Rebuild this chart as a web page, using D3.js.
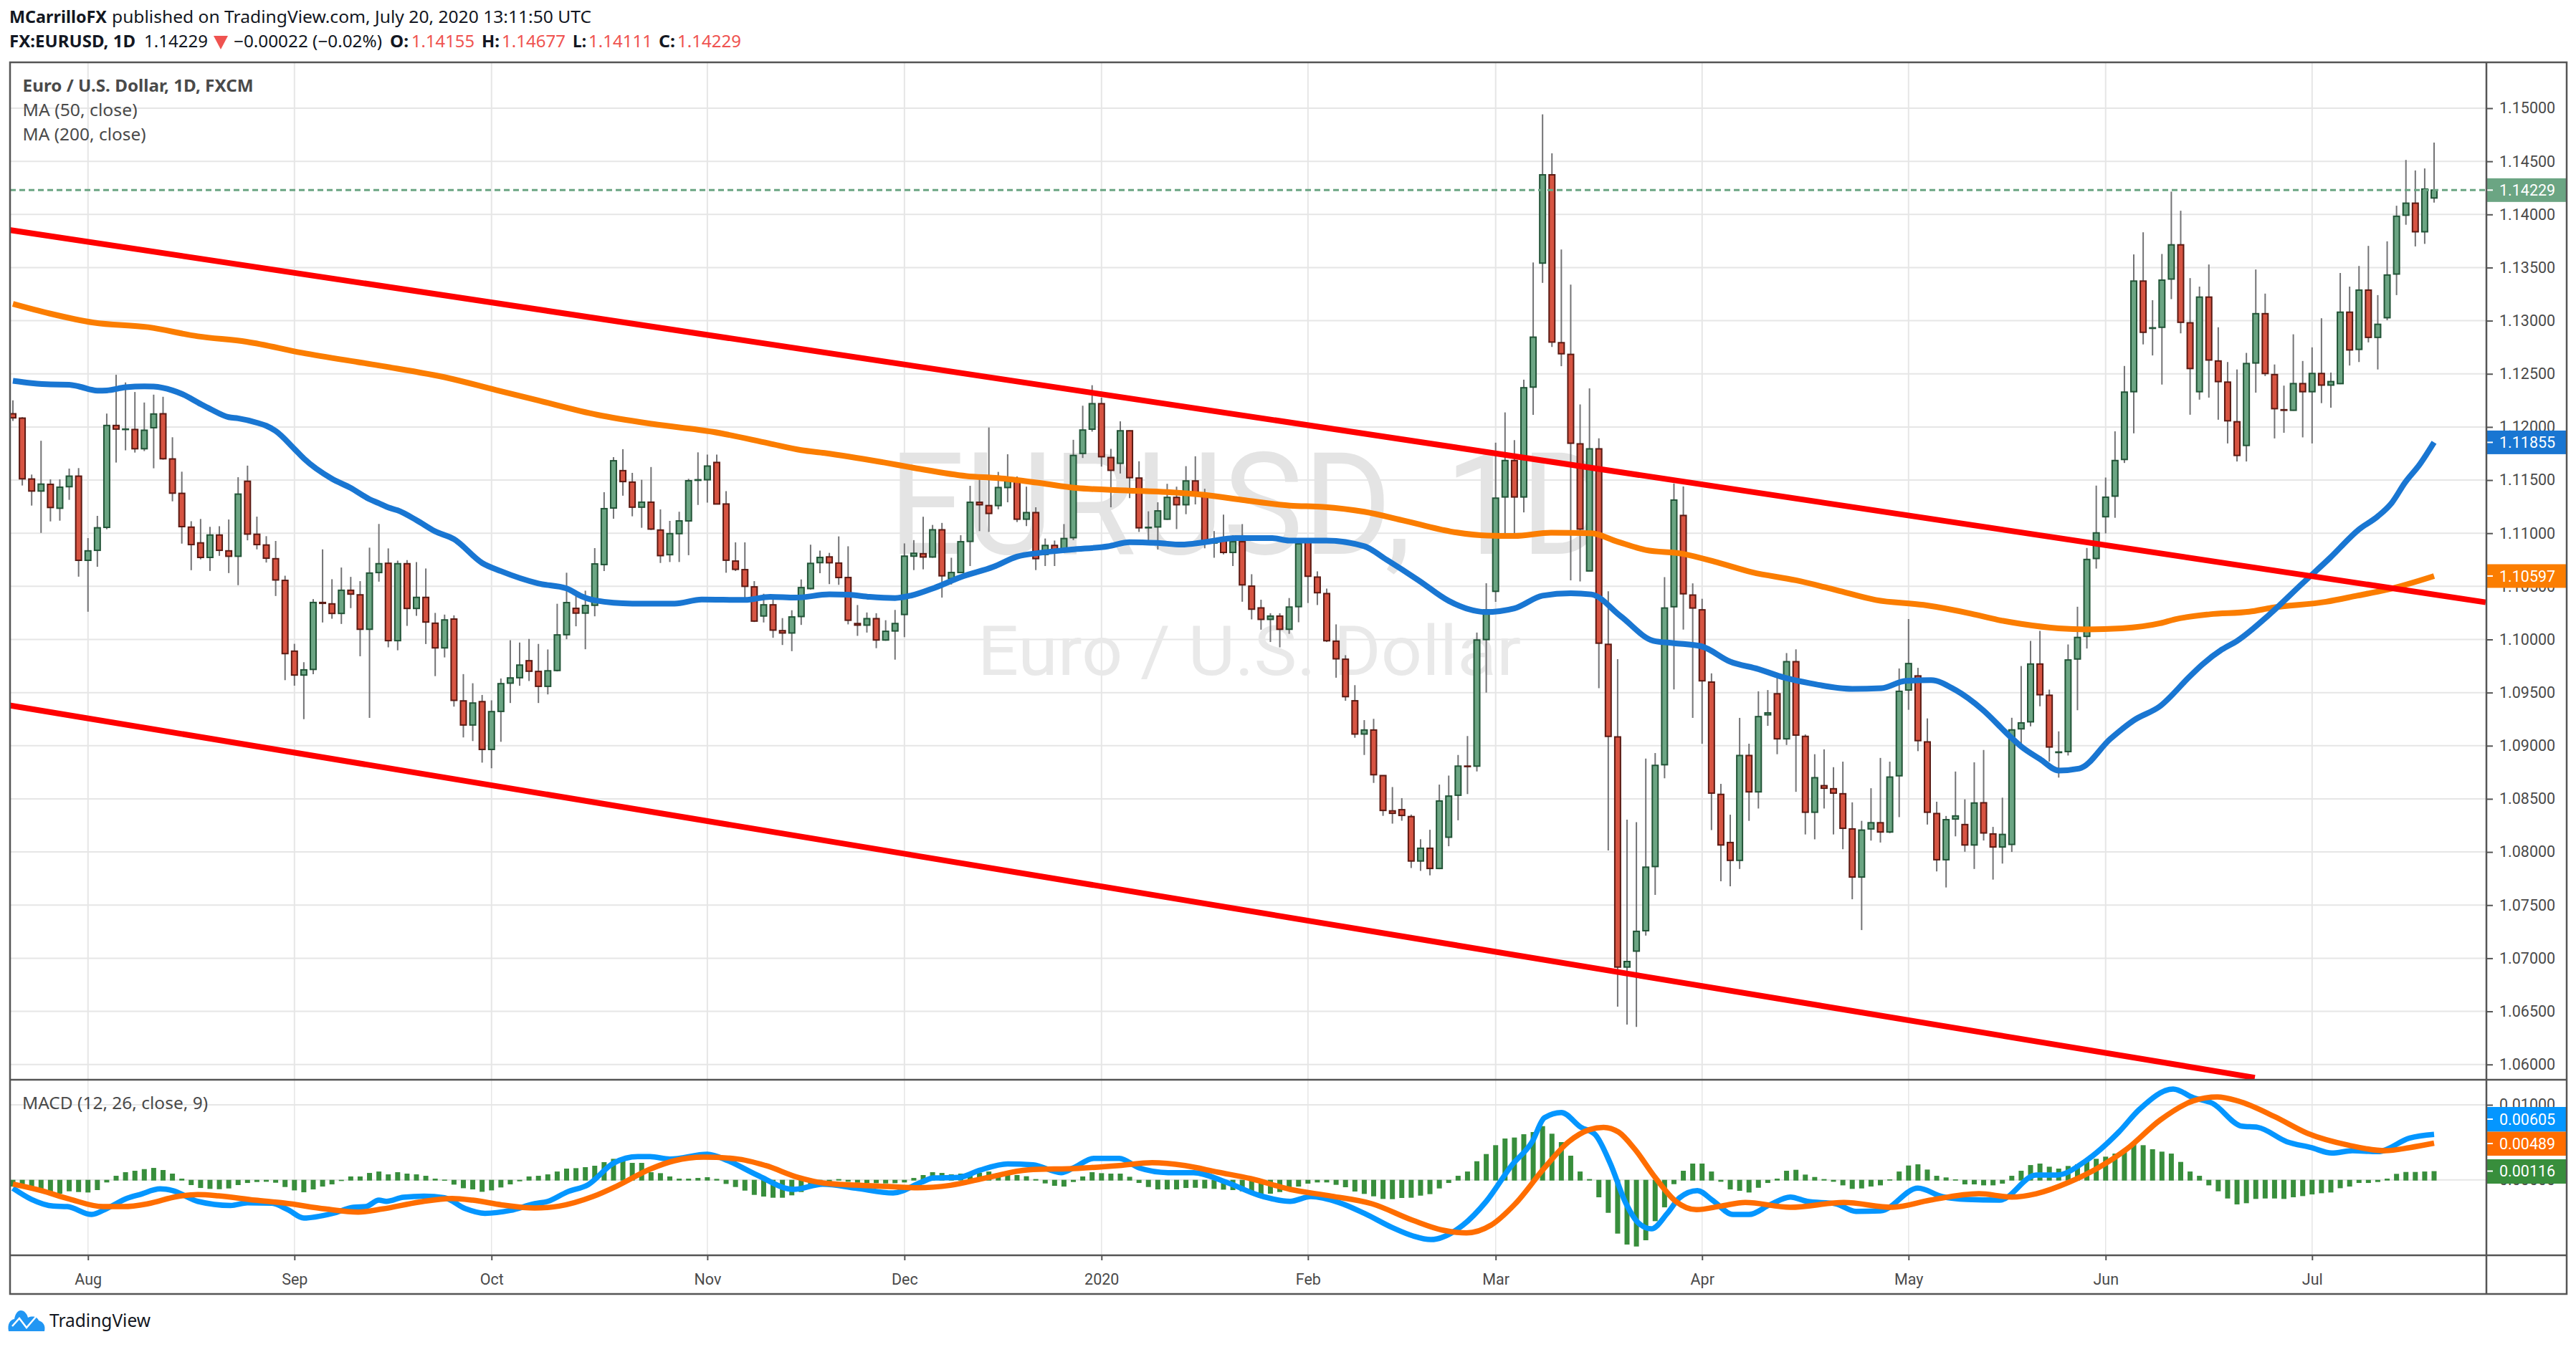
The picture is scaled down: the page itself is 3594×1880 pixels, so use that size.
<!DOCTYPE html>
<html><head><meta charset="utf-8">
<script src="https://cdn.jsdelivr.net/npm/d3@7"></script>
<style>html,body{margin:0;padding:0;background:#fff}svg{display:block}text{font-family:Roboto,sans-serif}</style>
</head><body><div id="c"></div>
<script>
const opens=[1.12124,1.12083,1.11510,1.11397,1.11460,1.11235,1.11438,1.11537,1.10745,1.10839,
1.11055,1.12014,1.11976,1.11976,1.11795,1.11993,1.12124,1.11699,1.11375,1.11057,
1.10909,1.10772,1.10983,1.10834,1.10783,1.11489,1.10990,1.10889,1.10760,1.10556,
1.09890,1.09665,1.09718,1.10348,1.10335,1.10245,1.10463,1.10420,1.10096,1.10630,
1.10717,1.09989,1.10713,1.10292,1.10396,1.10153,1.09921,1.10192,1.09422,1.09195,
1.09415,1.08965,1.09323,1.09589,1.09640,1.09800,1.09699,1.09559,1.09708,1.10045,
1.10293,1.10248,1.10322,1.10705,1.11237,1.11589,1.11481,1.11245,1.11292,1.11030,
1.10798,1.10996,1.11116,1.11498,1.11503,1.11666,1.11275,1.10738,1.10657,1.10495,
1.10221,1.10326,1.10083,1.10061,1.10216,1.10479,1.10723,1.10777,1.10719,1.10583,
1.10150,1.10135,1.10196,1.09995,1.10080,1.10235,1.10784,1.10807,1.10776,1.11032,
1.10572,1.10630,1.10923,1.11291,1.11260,1.11260,1.11430,1.11492,1.11132,1.11194,
1.10800,1.10885,1.10854,1.10958,1.11751,1.11979,1.12219,1.11712,1.11658,1.11964,
1.11519,1.11051,1.11059,1.11132,1.11337,1.11268,1.11492,1.11357,1.10908,1.10939,
1.10819,1.10920,1.10502,1.10297,1.10189,1.10220,1.10096,1.10309,1.10939,1.10587,
1.10432,1.09984,1.09814,1.09423,1.09110,1.09148,1.08719,1.08387,1.08398,1.08333,
1.07915,1.08035,1.07845,1.08139,1.08534,1.08808,1.08808,1.09999,1.10453,1.11341,
1.11684,1.11341,1.12375,1.13542,1.14373,1.12793,1.12683,1.11841,1.10645,1.11794,
1.09954,1.09083,1.06917,1.07067,1.07259,1.07863,1.08821,1.10308,1.11167,1.10418,
1.10279,1.09599,1.08542,1.08089,1.07921,1.08908,1.08566,1.09291,1.09489,1.09065,
1.09791,1.09088,1.08374,1.08624,1.08595,1.08548,1.08217,1.07764,1.08217,1.08275,
1.08188,1.08717,1.09524,1.09657,1.09036,1.08362,1.07927,1.08310,1.08258,1.08066,
1.08463,1.08170,1.08047,1.08071,1.09159,1.09225,1.09769,1.09475,1.08936,1.08945,
1.09816,1.10029,1.10762,1.11155,1.11349,1.11694,1.12332,1.13373,1.12928,1.12938,
1.13392,1.13714,1.12980,1.12332,1.13222,1.12621,1.12422,1.12049,1.11826,1.12602,
1.13066,1.12493,1.12162,1.12157,1.12408,1.12332,1.12503,1.12394,1.12408,1.13080,
1.12730,1.13288,1.12843,1.13028,1.13439,1.13993,1.14106,1.13837,1.14155];
const highs=[1.12250,1.12092,1.11552,1.11870,1.11507,1.11507,1.11608,1.11613,1.10954,1.11163,
1.12126,1.12491,1.12419,1.12329,1.12230,1.12304,1.12284,1.11903,1.11579,1.11113,
1.11134,1.11060,1.11066,1.11129,1.11527,1.11636,1.11156,1.10972,1.10927,1.10600,
1.09959,1.09786,1.10380,1.10848,1.10567,1.10677,1.10589,1.10549,1.10864,1.11087,
1.10857,1.10742,1.10747,1.10729,1.10668,1.10250,1.10234,1.10227,1.09674,1.09588,
1.09478,1.09427,1.09633,1.09993,1.09971,1.10005,1.09958,1.09906,1.10336,1.10628,
1.10426,1.10459,1.10860,1.11386,1.11716,1.11791,1.11568,1.11503,1.11623,1.11224,
1.11116,1.11202,1.11512,1.11761,1.11740,1.11740,1.11396,1.10914,1.10914,1.10549,
1.10430,1.10381,1.10201,1.10275,1.10565,1.10892,1.10836,1.10815,1.10970,1.10877,
1.10324,1.10254,1.10247,1.10181,1.10278,1.10904,1.10935,1.11155,1.11078,1.11097,
1.10769,1.10981,1.11446,1.11542,1.11995,1.11577,1.11743,1.11534,1.11438,1.11244,
1.10950,1.10931,1.11086,1.11879,1.12200,1.12393,1.12277,1.11794,1.12053,1.11968,
1.11677,1.11206,1.11291,1.11465,1.11438,1.11631,1.11724,1.11418,1.11020,1.11175,
1.10981,1.11086,1.10614,1.10374,1.10247,1.10247,1.10390,1.10923,1.10943,1.10641,
1.10479,1.10142,1.09852,1.09570,1.09241,1.09253,1.08719,1.08611,1.08507,1.08352,
1.08120,1.08209,1.08634,1.08719,1.08913,1.09091,1.10065,1.10529,1.11852,1.12137,
1.11876,1.12445,1.13548,1.14942,1.14576,1.13670,1.13339,1.12212,1.12363,1.11893,
1.10453,1.09814,1.08304,1.08281,1.08879,1.08931,1.10587,1.11469,1.11440,1.10528,
1.10383,1.09681,1.08641,1.08351,1.09262,1.09019,1.09512,1.09524,1.09675,1.09872,
1.09907,1.09106,1.08920,1.08966,1.08798,1.08850,1.08467,1.08293,1.08600,1.08885,
1.08850,1.09727,1.10192,1.09733,1.09257,1.08473,1.08339,1.08757,1.08496,1.08844,
1.08960,1.08236,1.08511,1.09263,1.09750,1.09986,1.10081,1.09528,1.09135,1.09953,
1.10308,1.10861,1.11448,1.11524,1.11959,1.12574,1.13624,1.13832,1.13193,1.13628,
1.14215,1.14035,1.13401,1.13321,1.13529,1.12938,1.12611,1.12541,1.12697,1.13482,
1.13255,1.12588,1.12389,1.12872,1.12621,1.12749,1.13023,1.12512,1.13449,1.13321,
1.13515,1.13704,1.13241,1.13747,1.14082,1.14513,1.14414,1.14433,1.14677];
const lows=[1.12056,1.11449,1.11260,1.11003,1.11111,1.11118,1.11314,1.10591,1.10261,1.10684,
1.11037,1.11665,1.11780,1.11759,1.11773,1.11611,1.11692,1.11300,1.10902,1.10652,
1.10754,1.10645,1.10787,1.10625,1.10511,1.10933,1.10848,1.10724,1.10409,1.09617,
1.09565,1.09250,1.09673,1.10160,1.10195,1.10146,1.10295,1.09842,1.09262,1.10544,
1.09926,1.09898,1.10128,1.10223,1.09957,1.09655,1.09831,1.09368,1.09078,1.09044,
1.08841,1.08788,1.09037,1.09402,1.09564,1.09609,1.09402,1.09483,1.09699,1.10002,
1.10124,1.09908,1.10218,1.10644,1.11136,1.11353,1.11159,1.11051,1.11030,1.10720,
1.10729,1.10729,1.10793,1.11266,1.11288,1.11271,1.10628,1.10644,1.10351,1.10164,
1.10160,1.10016,1.09948,1.09890,1.10137,1.10470,1.10623,1.10521,1.10514,1.10142,
1.10034,1.10065,1.09918,1.09988,1.09810,1.10022,1.10653,1.10660,1.10769,1.10394,
1.10517,1.10626,1.10691,1.11020,1.11012,1.11225,1.11291,1.11105,1.11067,1.10653,
1.10691,1.10691,1.10815,1.10935,1.11708,1.11956,1.11627,1.11244,1.11562,1.11330,
1.11012,1.10923,1.10846,1.11125,1.11039,1.11179,1.11271,1.10858,1.10769,1.10800,
1.10691,1.10355,1.10189,1.10092,1.09976,1.09926,1.10053,1.10162,1.10343,1.10324,
1.09976,1.09640,1.09423,1.09075,1.08913,1.08650,1.08340,1.08267,1.08294,1.07849,
1.07822,1.07780,1.07838,1.08054,1.08298,1.08545,1.08758,1.09500,1.10354,1.10952,
1.10952,1.11196,1.12114,1.13356,1.12753,1.12572,1.10557,1.10546,1.10645,1.09541,
1.08014,1.06545,1.06376,1.06353,1.07213,1.07596,1.08693,1.09530,1.10093,1.09262,
1.09019,1.08206,1.07724,1.07677,1.07840,1.08293,1.08409,1.09187,1.08920,1.09007,
1.08566,1.08165,1.08119,1.08409,1.08165,1.08026,1.07555,1.07265,1.08107,1.08089,
1.08177,1.08328,1.09338,1.08949,1.08258,1.07817,1.07666,1.08147,1.08002,1.07840,
1.08108,1.07740,1.07891,1.08000,1.09007,1.09182,1.09371,1.08851,1.08700,1.08908,
1.09334,1.09915,1.10667,1.10998,1.11145,1.11661,1.11940,1.12777,1.12673,1.12399,
1.13203,1.12881,1.12115,1.12257,1.12276,1.12068,1.11845,1.11675,1.11675,1.12323,
1.12479,1.11892,1.11945,1.12153,1.11902,1.11845,1.12224,1.12181,1.12403,1.12578,
1.12611,1.12796,1.12541,1.13004,1.13241,1.13903,1.13699,1.13723,1.14111];
const closes=[1.12086,1.11512,1.11397,1.11462,1.11242,1.11433,1.11537,1.10745,1.10834,1.11051,
1.12014,1.11980,1.11980,1.11795,1.11969,1.12122,1.11701,1.11377,1.11062,1.10893,
1.10772,1.10983,1.10839,1.10783,1.11368,1.10992,1.10893,1.10765,1.10560,1.09867,
1.09665,1.09714,1.10348,1.10340,1.10245,1.10463,1.10427,1.10096,1.10625,1.10713,
1.09989,1.10713,1.10292,1.10396,1.10164,1.09921,1.10184,1.09427,1.09195,1.09402,
1.08965,1.09321,1.09584,1.09638,1.09759,1.09701,1.09559,1.09705,1.10043,1.10347,
1.10248,1.10320,1.10711,1.11231,1.11682,1.11486,1.11245,1.11292,1.11039,1.10789,
1.10996,1.11116,1.11494,1.11503,1.11632,1.11275,1.10746,1.10660,1.10500,1.10173,
1.10326,1.10088,1.10061,1.10212,1.10488,1.10716,1.10772,1.10722,1.10583,1.10181,
1.10135,1.10196,1.09995,1.10077,1.10150,1.10784,1.10811,1.10776,1.11032,1.10599,
1.10630,1.10920,1.11291,1.11268,1.11186,1.11430,1.11492,1.11132,1.11194,1.10761,
1.10885,1.10846,1.10950,1.11732,1.11971,1.12219,1.11720,1.11592,1.11964,1.11523,
1.11051,1.11055,1.11210,1.11337,1.11268,1.11492,1.11357,1.10916,1.10939,1.10819,
1.10920,1.10514,1.10285,1.10189,1.10220,1.10096,1.10305,1.10900,1.10595,1.10440,
1.09988,1.09818,1.09462,1.09110,1.09148,1.08727,1.08391,1.08364,1.08344,1.07915,
1.08035,1.07845,1.08480,1.08526,1.08808,1.08804,1.09995,1.10278,1.11330,1.11684,
1.11341,1.12369,1.12845,1.14373,1.12799,1.12689,1.11847,1.11039,1.11794,1.09965,
1.09088,1.06917,1.06969,1.07253,1.07857,1.08815,1.10296,1.11312,1.10430,1.10296,
1.09611,1.08554,1.08066,1.07921,1.08908,1.08566,1.09274,1.09309,1.09065,1.09791,
1.09100,1.08374,1.08699,1.08600,1.08554,1.08223,1.07764,1.08206,1.08275,1.08188,
1.08705,1.09512,1.09773,1.09048,1.08374,1.07927,1.08304,1.08339,1.08066,1.08461,
1.08179,1.08047,1.08165,1.09149,1.09215,1.09769,1.09480,1.08988,1.08941,1.09807,
1.10019,1.10753,1.11003,1.11339,1.11684,1.12328,1.13373,1.12891,1.12933,1.13382,
1.13714,1.12985,1.12550,1.13222,1.12630,1.12427,1.12058,1.11732,1.12597,1.13066,
1.12503,1.12172,1.12157,1.12408,1.12332,1.12503,1.12394,1.12427,1.13080,1.12725,
1.13288,1.12843,1.12966,1.13430,1.13983,1.14106,1.13837,1.14239,1.14229];
const histogram=[-.0008,-.00096,-.00111,-.00134,-.00153,-.00175,-.00143,-.00153,-.00159,-.00127,
-.00025,.00054,.00102,.00121,.00143,.00159,.00131,.00083,.00016,-.0006,
-.00099,-.00111,-.00115,-.00105,-.0006,-.00032,-.00019,-.00016,-.00029,-.00086,
-.00131,-.00156,-.00118,-.0008,-.00051,-.00006,.00045,.00045,.00092,.00111,
.00073,.00102,.00083,.00073,.00054,.00016,.00003,-.00054,-.00102,-.00118,
-.0015,-.00131,-.00092,-.00051,-.0001,.00045,.00054,.00073,.00111,.0015,
.00156,.00169,.00188,.00236,.0028,.0028,.00226,.00226,.00102,.00089,
.00045,.00016,.00016,.00025,.00035,.00013,-.00045,-.00086,-.00134,-.00191,
-.00213,-.00229,-.00229,-.00197,-.00153,-.0007,-.00048,-.00019,.0001,-.00016,
-.00029,-.00032,-.00035,-.00038,-.00035,-.00025,.00025,.00064,.00102,.00092,
.00073,.00083,.0008,.00096,.00111,.00089,.0007,.00064,.00048,.0001,
-.00038,-.0007,-.0008,-.00019,.00045,.00102,.00089,.00083,.00083,.00041,
-.00032,-.00086,-.00118,-.00118,-.00118,-.00099,-.00096,-.00105,-.00111,-.00121,
-.00127,-.00143,-.00159,-.00185,-.00175,-.00153,-.00096,-.0008,-.00041,-.00025,
-.00025,-.00057,-.00089,-.00146,-.00178,-.0021,-.00245,-.00248,-.00232,-.00229,
-.00201,-.00181,-.00105,-.00032,.00054,.00111,.00248,.00344,.00462,.00551,
.00564,.00608,.00637,.00716,.00615,.00503,.00322,.00111,.0001,-.00223,
-.0043,-.00707,-.00853,-.00879,-.00796,-.00541,-.00357,-.00048,.00121,.00217,
.00217,.00111,-.00016,-.00118,-.00137,-.00159,-.00096,-.00032,.00016,.00121,
.00134,.0007,.00038,.0001,-.00016,-.00064,-.00111,-.00105,-.0008,-.00064,
.00006,.00111,.00191,.00207,.00137,.00054,.00032,.00006,-.00051,-.00051,
-.00064,-.00064,-.00041,.00054,.00121,.00197,.00217,.00175,.0015,.00185,
.00207,.00248,.0028,.00309,.0035,.00388,.00478,.00462,.00408,.00376,
.0035,.00239,.00111,.00054,-.00064,-.00143,-.00239,-.00318,-.00302,-.00245,
-.00239,-.00239,-.00245,-.00223,-.00207,-.00185,-.00169,-.00159,-.00102,-.0008,
-.00032,-.00032,-.00019,.00016,.0008,.00105,.00105,.00111,.00116];

const ma50Bars=[0,2,4,6,7,9,10,12,14,15,17,18,20,21,23,24,26,27,28,30,31,34,36,38,39,40,41,43,45,47,50,52,56,59,60.6,62,66,70.5,73.4,78,80.7,83.4,87,89,91.3,94,95.7,98.2,101,104.5,107,109.4,112.8,116.7,119,122,124.5,127,130.3,134.2,136,140,144,146.4,149.8,153,155.6,156.9,160,163,166,168.2,171.3,174.8,177,179.9,183,186,188.8,191.5,196,199.1,201.7,204.4,207,209.9,212.8,214,216,218,220.2,223.5,226,228.8,232,233.3,235.4,237,240.3,244,246.9,250,252,253.5,254.9,256.5,258];
const ma50Values=[1.12434,1.12412,1.124,1.12398,1.12382,1.12342,1.12344,1.12373,1.12382,1.1238,1.12344,1.12311,1.12216,1.12171,1.12092,1.12081,1.1204,1.12011,1.11962,1.11793,1.11703,1.11512,1.11426,1.1132,1.11282,1.11242,1.11215,1.11123,1.11017,1.10944,1.1072,1.10643,1.10527,1.1048,1.10406,1.10368,1.10338,1.10338,1.10376,1.10372,1.10402,1.10394,1.10424,1.10421,1.10401,1.1039,1.10413,1.10486,1.10587,1.10684,1.1078,1.10815,1.10846,1.10877,1.10916,1.10908,1.10893,1.10916,1.10954,1.10954,1.10931,1.10931,1.10877,1.10749,1.10556,1.10363,1.10274,1.10258,1.10293,1.10412,1.10435,1.10424,1.10221,1.09988,1.09965,1.09936,1.09791,1.09721,1.0964,1.09588,1.09535,1.09541,1.09611,1.09617,1.09524,1.09338,1.09088,1.08993,1.08875,1.08766,1.08785,1.09064,1.09239,1.09372,1.09655,1.09764,1.09906,1.09986,1.10223,1.1053,1.10767,1.11036,1.11159,1.11287,1.11476,1.11651,1.11855];
const ma200Bars=[0,3.9,8.6,14.4,19.7,24.9,30.8,39,46.5,51.2,55.9,62.3,68.2,74.6,80.5,84,86.5,92.8,96.2,101.6,105,109.4,113.3,118.6,123,127,131.3,136.1,139.6,144,148.3,153.2,157.1,160,163.9,168.2,170.9,174,177.9,181.8,185.3,190,194.3,198.5,203.6,208.7,211.5,214,218,221,224.7,228.8,230.4,234.1,238.3,240.7,246.5,249.8,253,258];
const ma200Values=[1.13158,1.13068,1.12982,1.12939,1.12853,1.12802,1.12698,1.12578,1.12458,1.12354,1.12251,1.12114,1.12028,1.11954,1.11847,1.11782,1.11755,1.11666,1.11612,1.11538,1.11519,1.11473,1.11426,1.11403,1.11387,1.1136,1.1131,1.1126,1.11248,1.11202,1.11117,1.11016,1.10978,1.10974,1.11005,1.10999,1.10923,1.10842,1.10807,1.1072,1.10633,1.10557,1.10465,1.10372,1.10325,1.10242,1.10185,1.10147,1.10105,1.10095,1.10105,1.10152,1.1019,1.10237,1.10261,1.10298,1.10355,1.10412,1.10469,1.10597];
const macdBars=[0,2,4.3,5.8,8.4,10,12.2,13.5,15.7,17,19.7,23.2,25,27.6,29.3,31,34.1,36.3,37.6,39,39.8,41.6,43.8,46,48.2,50.3,53,55.6,57,59.1,61.3,64,66.6,67.9,70,74,76.2,79.3,83.2,86.3,89.8,93.8,96.8,98.1,100.8,103,106,108.7,111.7,113,115.2,117.9,120,123.1,125.8,129.3,132.8,136.1,138.3,141.3,144,147,149.2,151.1,154.5,157,159.7,161.9,163.2,165,167.1,168.6,170.2,171.9,173.2,174.6,176.3,177.6,179.5,181.1,183.3,185,187.2,189.4,191.2,194.2,196.4,199,203,205.6,208.2,211.7,215.6,217.8,220.9,224.4,226.6,230.2,232.3,234.4,237.5,239.2,242.3,244.9,247.1,249.3,252,255.4,258];
const macdValues=[-.00111,-.00261,-.0035,-.00357,-.00462,-.00382,-.00245,-.00197,-.00121,-.00143,-.00287,-.00341,-.00306,-.00312,-.00398,-.00509,-.00446,-.00366,-.00357,-.00271,-.00287,-.00232,-.00217,-.00239,-.00382,-.00446,-.00408,-.00318,-.00287,-.00159,-.00064,.00223,.00309,.00309,.00277,.00341,.00255,.00064,-.00127,-.00057,-.00111,-.00175,-.00032,.00025,.00032,.00127,.00213,.00201,.00096,.00159,.00287,.00287,.00159,.00096,.00096,-.00032,-.00207,-.00287,-.00223,-.00302,-.00446,-.00637,-.00748,-.00796,-.00605,-.00287,.00191,.00509,.00828,.00898,.007,.00605,.00223,-.00318,-.00573,-.00653,-.00446,-.00239,-.00143,-.00271,-.00462,-.00462,-.00334,-.00229,-.00287,-.00318,-.0042,-.00414,-.00111,-.00223,-.00261,-.00271,.00064,.00064,.00255,.00637,.00939,.0121,.01098,.01019,.00716,.007,.00509,.0043,.00357,.00388,.00376,.00557,.00605];
const signalBars=[0,3,6,9.6,11.8,14.4,17.5,19.7,21.9,25.8,28.9,33.3,36.8,39.4,43.3,46.8,49,52.1,55.6,58.2,61.8,64.4,67.9,70.5,73.6,77.1,80.2,83.7,86.3,89.8,93.3,96.4,99.9,103.9,108.2,113.5,117.9,121.4,124.9,128.4,131.9,136.1,140.5,144.8,149.2,152.3,154.9,157.5,160.1,163.2,165.8,168,169.5,171.1,172.8,175,177.2,179.4,182,184.6,189.4,195.1,200.3,204.3,209.5,213,215.6,219.1,222.2,225.3,228.8,232.3,234.9,237.1,241,244.5,248.9,252.8,255.4,258];
const signalValues=[-.00057,-.00143,-.00255,-.00357,-.00357,-.00318,-.00223,-.00197,-.00213,-.00271,-.00309,-.00388,-.0043,-.00388,-.00296,-.00248,-.00271,-.00334,-.00376,-.0035,-.00223,-.0008,.00143,.00255,.00302,.0028,.00191,.00032,-.00041,-.0007,-.00089,-.00105,-.00073,.00032,.00134,.00153,.00191,.00229,.00191,.00102,.00016,-.00127,-.00217,-.00318,-.00541,-.00669,-.00707,-.00605,-.00318,.00159,.00509,.00669,.007,.00637,.00414,.00032,-.00287,-.00398,-.0035,-.00302,-.00366,-.00302,-.00366,-.00271,-.00185,-.00229,-.00185,-.00032,.00159,.00414,.00796,.01051,.01105,.01051,.00844,.00621,.00462,.00388,.0043,.00489];

const upperChannelBars=[-0.38,263.5];
const upperChannelPrices=[1.13854,1.10350];
const lowerChannelBars=[-0.38,238.9];
const lowerChannelPrices=[1.09380,1.05876];

const monthBars=[8,30,51,74,95,116,138,158,180,202,223,245];
const monthLabels=["Aug","Sep","Oct","Nov","Dec","2020","Feb","Mar","Apr","May","Jun","Jul"];
const priceTicks=[1.06,1.065,1.07,1.075,1.08,1.085,1.09,1.095,1.10,1.105,1.11,1.115,1.12,1.125,1.13,1.135,1.14,1.145,1.15];
const macdTicks=[0,0.01];
const lastPrice=1.14229, lastMa50=1.11855, lastMa200=1.10597;
const lastMacd=0.00605, lastSignal=0.00489, lastHist=0.00116;

const W=3594,H=1880;
const L=14,R=3469,RR=3581,T=87,P=1507,M=1752,B=1806;
const x=d3.scaleLinear().domain([0,258]).range([18,3396]);
const y=d3.scaleLinear().domain([1.06,1.15]).range([1485.7,151]);
const my=d3.scaleLinear().domain([0,0.01]).range([1646.7,1542]);
const svg=d3.select("#c").append("svg").attr("width",W).attr("height",H).attr("viewBox",`0 0 ${W} ${H}`);
const defs=svg.append("defs");
defs.append("clipPath").attr("id","mainClip").append("rect").attr("x",L).attr("y",T).attr("width",R-L).attr("height",P-T);
defs.append("clipPath").attr("id","macdClip").append("rect").attr("x",L).attr("y",P).attr("width",R-L).attr("height",M-P);

const GRID="#e6e6e6",BORDER="#555555",TXT="#4a4a4a",ORANGE="#fb7d00";

// grid
const g=svg.append("g");
g.selectAll(".h").data(priceTicks).join("line").attr("x1",L).attr("x2",R).attr("y1",d=>y(d)).attr("y2",d=>y(d)).attr("stroke",GRID).attr("stroke-width",2);
g.selectAll(".v").data(monthBars).join("line").attr("x1",d=>x(d)).attr("x2",d=>x(d)).attr("y1",T).attr("y2",P).attr("stroke",GRID).attr("stroke-width",2);
g.selectAll(".mh").data(macdTicks).join("line").attr("x1",L).attr("x2",R).attr("y1",d=>my(d)).attr("y2",d=>my(d)).attr("stroke",GRID).attr("stroke-width",2);
g.selectAll(".mv").data(monthBars).join("line").attr("x1",d=>x(d)).attr("x2",d=>x(d)).attr("y1",P).attr("y2",M).attr("stroke",GRID).attr("stroke-width",1.5);

// watermark
const wm=svg.append("g").attr("fill","#e4e4e4").attr("text-anchor","start");
wm.append("text").attr("x",1240).attr("y",773).attr("font-size",198).attr("textLength",1005).attr("lengthAdjust","spacingAndGlyphs").style("font-family","Roboto").text("EURUSD, 1D");
wm.append("text").attr("x",1364).attr("y",942).attr("font-size",96).attr("textLength",758).attr("lengthAdjust","spacingAndGlyphs").attr("fill","#e9e9e9").style("font-family","Roboto").text("Euro / U.S. Dollar");

// candles
const main=svg.append("g").attr("clip-path","url(#mainClip)");
const idx=d3.range(opens.length);
main.selectAll(".w").data(idx).join("line").attr("x1",i=>x(i)).attr("x2",i=>x(i)).attr("y1",i=>y(highs[i])).attr("y2",i=>y(lows[i])).attr("stroke","#737375").attr("stroke-width",2);
main.selectAll(".b").data(idx).join("rect")
 .attr("x",i=>x(i)-4).attr("width",8)
 .attr("y",i=>y(Math.max(opens[i],closes[i])))
 .attr("height",i=>Math.max(0.6,Math.abs(y(opens[i])-y(closes[i]))))
 .attr("fill",i=>closes[i]>=opens[i]?"#6ba583":"#d75442")
 .attr("stroke",i=>closes[i]>=opens[i]?"#225437":"#5b1a13").attr("stroke-width",2);

// last price dashed
main.append("line").attr("x1",L).attr("x2",R).attr("y1",y(lastPrice)).attr("y2",y(lastPrice)).attr("stroke","#6ba583").attr("stroke-width",3).attr("stroke-dasharray","8 5");

// moving averages
const series=(bars,vals,ys)=>d3.line().x((d,i)=>x(bars[i])).y((d,i)=>ys(vals[i])).curve(d3.curveMonotoneX)(vals);
main.append("path").attr("d",series(ma200Bars,ma200Values,y)).attr("fill","none").attr("stroke",ORANGE).attr("stroke-width",8);
main.append("path").attr("d",series(ma50Bars,ma50Values,y)).attr("fill","none").attr("stroke","#1976d2").attr("stroke-width",8);

// channel
const seg=(bars,vals)=>d3.line().x((d,i)=>x(bars[i])).y((d,i)=>y(vals[i]))(vals);
main.append("path").attr("d",seg(upperChannelBars,upperChannelPrices)).attr("fill","none").attr("stroke","#ff0000").attr("stroke-width",8);
main.append("path").attr("d",seg(lowerChannelBars,lowerChannelPrices)).attr("fill","none").attr("stroke","#ff0000").attr("stroke-width",8);

// macd
const mp=svg.append("g").attr("clip-path","url(#macdClip)");
mp.selectAll(".h").data(idx).join("rect").attr("x",i=>x(i)-3.5).attr("width",7)
 .attr("y",i=>Math.min(my(histogram[i]),my(0)))
 .attr("height",i=>Math.max(1.5,Math.abs(my(histogram[i])-my(0))+1))
 .attr("fill","#388e3c");
mp.append("path").attr("d",series(macdBars,macdValues,my)).attr("fill","none").attr("stroke","#0496ff").attr("stroke-width",7.5);
mp.append("path").attr("d",series(signalBars,signalValues,my)).attr("fill","none").attr("stroke","#ff6d00").attr("stroke-width",7.5);

// axes
function styleAxis(s){s.select(".domain").remove();s.selectAll("line").attr("stroke",BORDER).attr("stroke-width",2);s.selectAll("text").attr("fill",TXT).attr("font-size",21.5).style("font-family","Roboto");}
svg.append("g").attr("transform",`translate(${R},0)`).call(d3.axisRight(y).tickValues(priceTicks).tickFormat(d3.format(".5f")).tickSize(9).tickPadding(9)).attr("font-family","Roboto").call(styleAxis);
svg.append("g").attr("transform",`translate(${R},0)`).call(d3.axisRight(my).tickValues(macdTicks).tickFormat(d3.format(".5f")).tickSize(9).tickPadding(9)).attr("font-family","Roboto").call(styleAxis);
svg.append("g").attr("transform",`translate(0,${M})`).call(d3.axisBottom(x).tickValues(monthBars).tickFormat((d,i)=>monthLabels[i]).tickSize(7).tickPadding(19)).call(styleAxis);

// price labels
function tag(y0,h,yc,bg,label,tickY){
 svg.append("rect").attr("x",R-1).attr("y",y0).attr("width",RR-R).attr("height",h).attr("fill",bg);
 svg.append("line").attr("x1",R).attr("x2",R+9).attr("y1",tickY).attr("y2",tickY).attr("stroke","#ffffff").attr("stroke-width",2);
 svg.append("text").attr("x",R+18).attr("y",yc).attr("dy","0.36em").attr("fill","#fff").attr("font-size",21.5).text(label);
}
const fmt=d3.format(".5f");
tag(y(lastPrice)-16.5,33,y(lastPrice),"#6ba583",fmt(lastPrice),y(lastPrice));
tag(y(lastMa50)-16.5,33,y(lastMa50),"#1976d2",fmt(lastMa50),y(lastMa50));
tag(y(lastMa200)-16.5,33,y(lastMa200),ORANGE,fmt(lastMa200),y(lastMa200));
tag(1545,34.5,1562,"#0496ff",fmt(lastMacd),1562);
tag(1579.5,33.5,1596,"#ff6d00",fmt(lastSignal),1596);
tag(1618,34,1634.5,"#388e3c",fmt(lastHist),1634.5);

// borders
const bd=svg.append("g").attr("stroke",BORDER).attr("stroke-width",2.5).attr("fill","none");
bd.append("rect").attr("x",L).attr("y",T).attr("width",RR-L).attr("height",B-T);
bd.append("line").attr("x1",L).attr("x2",RR).attr("y1",P).attr("y2",P);
bd.append("line").attr("x1",L).attr("x2",RR).attr("y1",M).attr("y2",M);
bd.append("line").attr("x1",R).attr("x2",R).attr("y1",T).attr("y2",B);

// header
const HF="'Noto Sans'";
function t(xx,yy,w,txt,fill,bold,fs){svg.append("text").attr("x",xx).attr("y",yy).attr("textLength",w).attr("lengthAdjust","spacingAndGlyphs").attr("fill",fill).attr("font-size",fs||23).attr("font-weight",bold?700:400).style("font-family",HF).text(txt);}
const DK="#131722",RD="#ef5350";
t(13,32,136,"MCarrilloFX",DK,true);
t(156,32,669,"published on TradingView.com, July 20, 2020 13:11:50 UTC",DK,false);
t(13,66,176,"FX:EURUSD, 1D",DK,true);
t(201,66,89,"1.14229",DK,false);
svg.append("path").attr("d",d3.line()([[298,50],[318,50],[308,69]])+"Z").attr("fill",RD);
t(326,66,207,"\u22120.00022 (\u22120.02%)",DK,false);
t(544,66,26,"O:",DK,true);t(574,66,88,"1.14155",RD,false);
t(672,66,25,"H:",DK,true);t(700,66,89,"1.14677",RD,false);
t(799,66,19,"L:",DK,true);t(821,66,89,"1.14111",RD,false);
t(919,66,23,"C:",DK,true);t(945,66,89,"1.14229",RD,false);

// legends
t(31.6,128,322,"Euro / U.S. Dollar, 1D, FXCM",TXT,true);
t(31.6,162,160,"MA (50, close)",TXT,false);
t(31.6,196,172,"MA (200, close)",TXT,false);
t(31,1548,259,"MACD (12, 26, close, 9)",TXT,false);

// logo
const lg=svg.append("g");
lg.append("path").attr("fill","#2196f3").attr("d","M12,1858 C10,1848 14,1842 20,1841 C21,1835 24,1829 29,1829 C34,1829 38,1834 39,1839 C46,1836 52,1838 54,1843 C60,1845 64,1850 62,1858 Z");
lg.append("path").attr("fill","none").attr("stroke","#ffffff").attr("stroke-width",2.5).attr("d","M17,1851 L27,1840 L37,1853 L50,1838");
t(69,1852,141,"TradingView",DK,false,25);
</script></body></html>
